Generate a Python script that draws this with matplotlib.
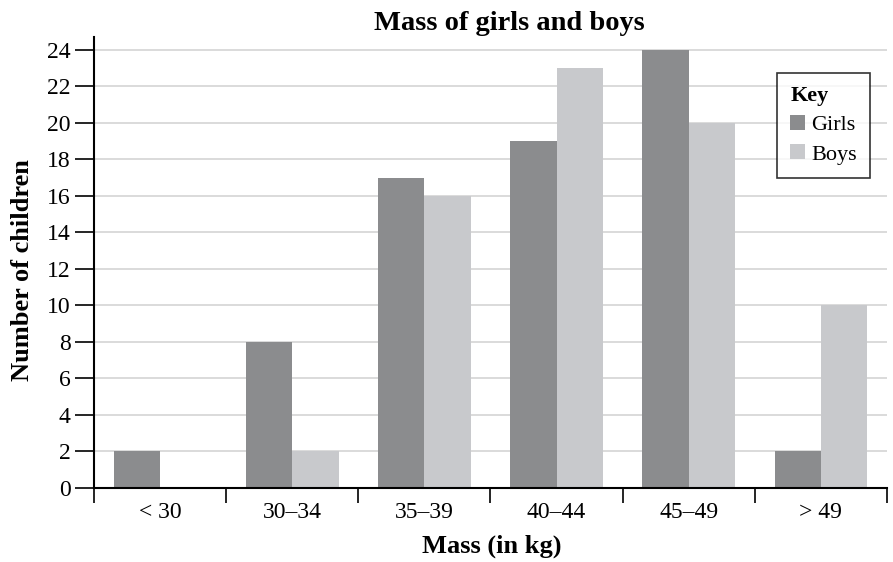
import numpy as np
import matplotlib
matplotlib.use("Agg")
import matplotlib.pyplot as plt

# ========== data ==========
categories = ["< 30", "30\u201334", "35\u201339", "40\u201344", "45\u201349", "> 49"]
girls = [2, 8, 17, 19, 24, 2]
boys = [0, 2, 16, 23, 20, 10]
y_ticks = list(range(0, 25, 2))

girls_color = "#8b8c8e"
boys_color = "#c8c9cc"

plt.rcParams['font.family'] = ['Liberation Serif', 'DejaVu Serif']

fig = plt.figure(figsize=(8.93, 5.62), dpi=100)
ax = fig.add_axes([94 / 893, 1 - 488 / 562, (887 - 94) / 893, (488 - 37) / 562])

x = np.arange(len(categories))
w = 0.35
ax.bar(x - w / 2, girls, w, color=girls_color, label="Girls", zorder=2)
ax.bar(x + w / 2, boys, w, color=boys_color, label="Boys", zorder=2)

ax.set_xlim(-0.5, len(categories) - 0.5)
ax.set_ylim(0, 24.7)
ax.set_yticks(y_ticks)
ax.tick_params(axis='y', labelsize=17, length=14, width=1.2, direction='out', pad=3)

# ticks at group boundaries, labels at centres
ax.set_xticks(np.arange(len(categories) + 1) - 0.5)
ax.set_xticklabels([])
ax.set_xticks(x, minor=True)
ax.set_xticklabels(categories, minor=True, fontsize=17)
ax.tick_params(axis='x', which='major', length=11, width=1.2, direction='out')
ax.tick_params(axis='x', which='minor', length=0, pad=10)

ax.yaxis.grid(True, color="#d4d4d4", linewidth=1.2, zorder=0)
ax.set_axisbelow(True)
for s in ['top', 'right']:
    ax.spines[s].set_visible(False)
for s in ['left', 'bottom']:
    ax.spines[s].set_linewidth(1.5)

fig.text(509 / 893, 1 - 23 / 562, "Mass of girls and boys", ha='center', va='center',
         fontsize=20.5, fontweight='bold')
fig.text(492 / 893, 1 - 546 / 562, "Mass (in kg)", ha='center', va='center',
         fontsize=19, fontweight='bold')
fig.text(23 / 893, 1 - 270 / 562, "Number of children", ha='center', va='center',
         rotation=90, fontsize=19, fontweight='bold')

leg = ax.legend(title="Key", loc='upper left', bbox_to_anchor=((777 - 94) / 793, 1 - (73 - 37) / 451),
                borderaxespad=0, fontsize=16, title_fontproperties={'weight': 'bold', 'size': 16},
                frameon=True, fancybox=False, edgecolor='black', handlelength=0.65,
                handleheight=0.65, handletextpad=0.3, borderpad=0.6, labelspacing=0.4)
leg._legend_box.align = "left"
leg.get_frame().set_linewidth(1.2)

fig.savefig("out.png", dpi=100)
